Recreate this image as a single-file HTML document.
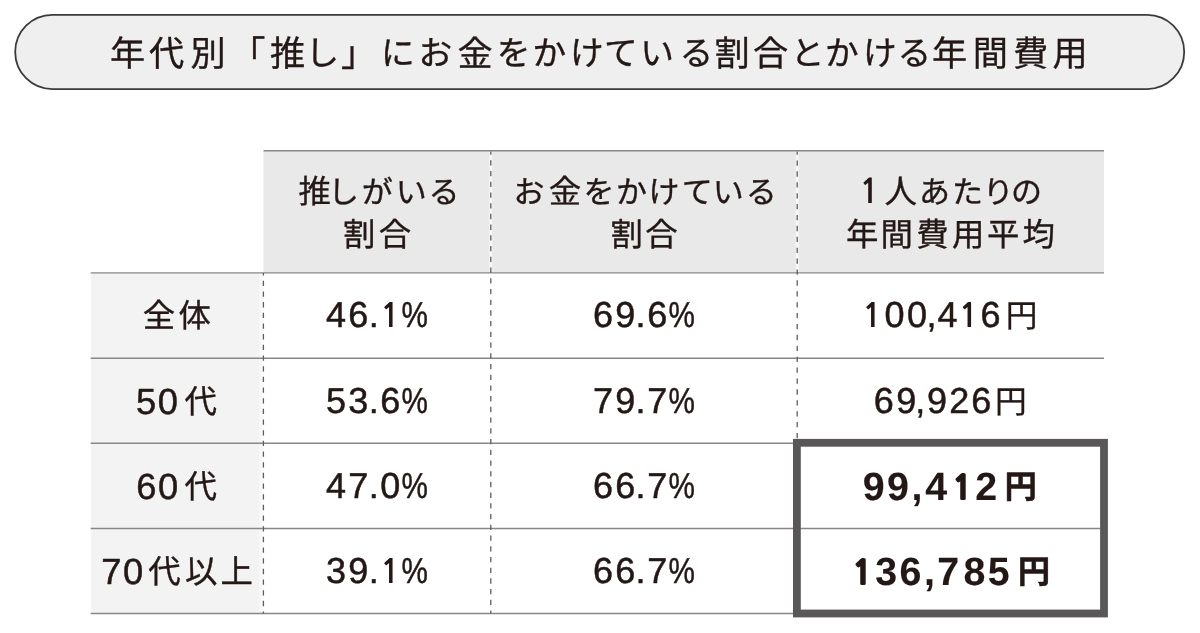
<!DOCTYPE html>
<html lang="ja">
<head>
<meta charset="utf-8">
<title>年代別「推し」にお金をかけている割合とかける年間費用</title>
<style>
html,body{margin:0;padding:0;background:#fff;}
body{width:1200px;height:633px;position:relative;overflow:hidden;
  font-family:"Liberation Sans","Noto Sans CJK JP",sans-serif;color:#231815;}
svg{position:absolute;left:0;top:0;}
text{font-family:"Liberation Sans","Noto Sans CJK JP",sans-serif;fill:#231815;stroke:#231815;stroke-width:0.35px;stroke-linejoin:round;text-rendering:geometricPrecision;}
#title{font-size:35.2px;}
#title .ka{font-size:33.7px;}
.h{font-size:32.4px;}
.h .ka{font-size:31.0px;}
.n1,.h .one{font-family:"NanumGothic","IPAGothic","Liberation Sans",sans-serif;font-weight:bold;font-size:33.2px;stroke-width:0;}
.h .one{font-size:33.8px;}
.b .n1{font-size:32.9px;stroke-width:2px;stroke-linejoin:miter;}
.d{font-size:36.0px;stroke-width:0.5px;}
.l{font-size:36.3px;stroke-width:0.5px;}
.b{font-size:39.4px;font-weight:bold;stroke-width:0.1px;}
.k{font-size:32.4px;stroke-width:0.35px;}
.y{font-size:31.7px;stroke-width:0.35px;}
.b .y{font-size:32.4px;stroke-width:0.5px;}
</style>
</head>
<body>
<svg width="1200" height="633" viewBox="0 0 1200 633">
  <!-- title pill -->
  <rect x="15.2" y="14.85" width="1169" height="74.2" rx="37.1" ry="37.1" fill="#efefef" stroke="#3e3a39" stroke-width="1.8"/>
  <!-- backgrounds -->
  <rect x="263.5" y="150.4" width="840.5" height="122.4" fill="#e9e9e9"/>
  <rect x="90.8" y="272.8" width="172.7" height="340.7" fill="#f3f3f3"/>
  <!-- white under-strokes beneath dashed rules -->
  <g stroke="#f8f8f8" stroke-width="2.6">
    <line x1="490.8" y1="151.4" x2="490.8" y2="272"/>
    <line x1="797.2" y1="151.4" x2="797.2" y2="272"/>
    <line x1="260.4" y1="273.6" x2="260.4" y2="612.6" stroke="#f8f8f8" stroke-width="2"/>
    <line x1="262.6" y1="273.6" x2="262.6" y2="612.6" stroke="#fcfcfc" stroke-width="2.4"/>
  </g>
  <!-- horizontal rules -->
  <g stroke="#878787" stroke-width="1.4">
    <line x1="263.5" y1="150.8" x2="1104" y2="150.8"/>
    <line x1="90.7" y1="272.9" x2="1104" y2="272.9"/>
    <line x1="90.7" y1="358.2" x2="1104" y2="358.2"/>
    <line x1="90.7" y1="443.2" x2="1104" y2="443.2"/>
    <line x1="90.7" y1="528.45" x2="1104" y2="528.45"/>
    <line x1="90.7" y1="613.55" x2="1104" y2="613.55"/>
  </g>
  <!-- vertical dashed rules -->
  <g stroke="#5f5d5d" stroke-width="1.3">
    <line x1="263.4" y1="272.9" x2="263.4" y2="613.5" stroke-dasharray="5.3 5.37" stroke-dashoffset="2.8"/>
    <line x1="490.8" y1="151.5" x2="490.8" y2="613.5" stroke-dasharray="5.3 5.42" stroke-dashoffset="1.95"/>
    <line x1="797.2" y1="151.5" x2="797.2" y2="443" stroke-dasharray="5.3 5.6" stroke-dashoffset="1.95"/>
  </g>
  <!-- highlight box -->
  <rect x="796.9" y="442.8" width="307.1" height="170.7" fill="none" stroke="#595757" stroke-width="7.8"/>
  <!-- title -->
  <text id="title"><tspan x="110.1 149.1 190.4 230.3 270.1" y="66">年代別「推</tspan><tspan class="ka" x="305.5" y="65">し</tspan><tspan x="341.1" y="66">」</tspan><tspan class="ka" x="381.0 418.5" y="65">にお</tspan><tspan x="457.4" y="66">金</tspan><tspan class="ka" x="496.8 532.4 569.9 604.1 640.3 679.5" y="65">をかけている</tspan><tspan x="714.5 753.1" y="66">割合</tspan><tspan class="ka" x="790.8 824.9 862.9 897.4" y="65">とかける</tspan><tspan x="931.9 972.7 1012.9 1052.6" y="66">年間費用</tspan></text>
  <!-- header -->
  <text class="h"><tspan x="298.4" y="203">推</tspan><tspan class="ka" x="328.0 361.7 395.7 428.5">しがいる</tspan><tspan x="342.9 378.8" y="246">割合</tspan></text>
  <text class="h"><tspan class="ka" x="513.6" y="203">お</tspan><tspan x="548.8">金</tspan><tspan class="ka" x="583.6 616.1 648.5 681.7 712.7 745.7">をかけている</tspan><tspan x="610.5 645.2" y="246">割合</tspan></text>
  <text class="h"><tspan class="one" x="859.0" y="203">1</tspan><tspan x="884.5">人</tspan><tspan class="ka" x="919.1 952.0 982.8 1011.1">あたりの</tspan><tspan x="845.9 880.6 916.2 951.9 987.0 1022.4" y="246">年間費用平均</tspan></text>
  <!-- cells -->
  <text class="d" y="327"><tspan x="326.0 348.3 368.7">46.</tspan><tspan class="n1" x="380.1">1</tspan><tspan x="401.5" textLength="26.4" lengthAdjust="spacingAndGlyphs">%</tspan></text>
  <text class="d" y="413"><tspan x="326.0 348.3 368.7 380.3">53.6</tspan><tspan x="401.5" textLength="26.4" lengthAdjust="spacingAndGlyphs">%</tspan></text>
  <text class="d" y="498"><tspan x="326.0 348.3 368.7 380.3">47.0</tspan><tspan x="401.5" textLength="26.4" lengthAdjust="spacingAndGlyphs">%</tspan></text>
  <text class="d" y="583"><tspan x="326.0 348.3 368.7">39.</tspan><tspan class="n1" x="380.1">1</tspan><tspan x="401.5" textLength="26.4" lengthAdjust="spacingAndGlyphs">%</tspan></text>
  <text class="d" y="327"><tspan x="592.9 615.2 635.6 647.2">69.6</tspan><tspan x="668.4" textLength="26.4" lengthAdjust="spacingAndGlyphs">%</tspan></text>
  <text class="d" y="413"><tspan x="592.9 615.2 635.6 647.2">79.7</tspan><tspan x="668.4" textLength="26.4" lengthAdjust="spacingAndGlyphs">%</tspan></text>
  <text class="d" y="498"><tspan x="592.9 615.2 635.6 647.2">66.7</tspan><tspan x="668.4" textLength="26.4" lengthAdjust="spacingAndGlyphs">%</tspan></text>
  <text class="d" y="583"><tspan x="592.9 615.2 635.6 647.2">66.7</tspan><tspan x="668.4" textLength="26.4" lengthAdjust="spacingAndGlyphs">%</tspan></text>
  <text class="d" y="327"><tspan class="n1" x="861.9">1</tspan><tspan x="884.6 907.1 926.5 937.5">00,4</tspan><tspan class="n1" x="958.6">1</tspan><tspan x="980.4">6</tspan><tspan class="y" x="1005.7" y="327.0">円</tspan></text>
  <text class="d" y="413"><tspan x="873.7 896.2 915.2 927.1 949.2 971.2">69,926</tspan><tspan class="y" x="994.9" y="413.0">円</tspan></text>
  <text class="b" y="500"><tspan x="862.8 886.9 911.6 925.3" y="500.0">99,4</tspan><tspan class="n1" x="952.2" y="499.0">1</tspan><tspan x="975.3" y="500.0">2</tspan><tspan class="y" x="1004.5" y="498.0">円</tspan></text>
  <text class="b" y="585"><tspan class="n1" x="852.2" y="584.0">1</tspan><tspan x="875.3 899.4 924.1 937.3 963.6 987.8" y="585.0">36,785</tspan><tspan class="y" x="1017.8" y="583.0">円</tspan></text>
  <text class="l" y="327"><tspan class="k" x="142.7 178.5">全体</tspan></text>
  <text class="l" y="414"><tspan x="136.1 157.8">50</tspan><tspan class="k" x="184.4" y="413">代</tspan></text>
  <text class="l" y="499"><tspan x="136.3 157.9">60</tspan><tspan class="k" x="184.4" y="498">代</tspan></text>
  <text class="l" y="584"><tspan x="101.3 123.1">70</tspan><tspan class="k" x="148.3 184.9 220.4" y="583">代以上</tspan></text>
</svg>
</body>
</html>
